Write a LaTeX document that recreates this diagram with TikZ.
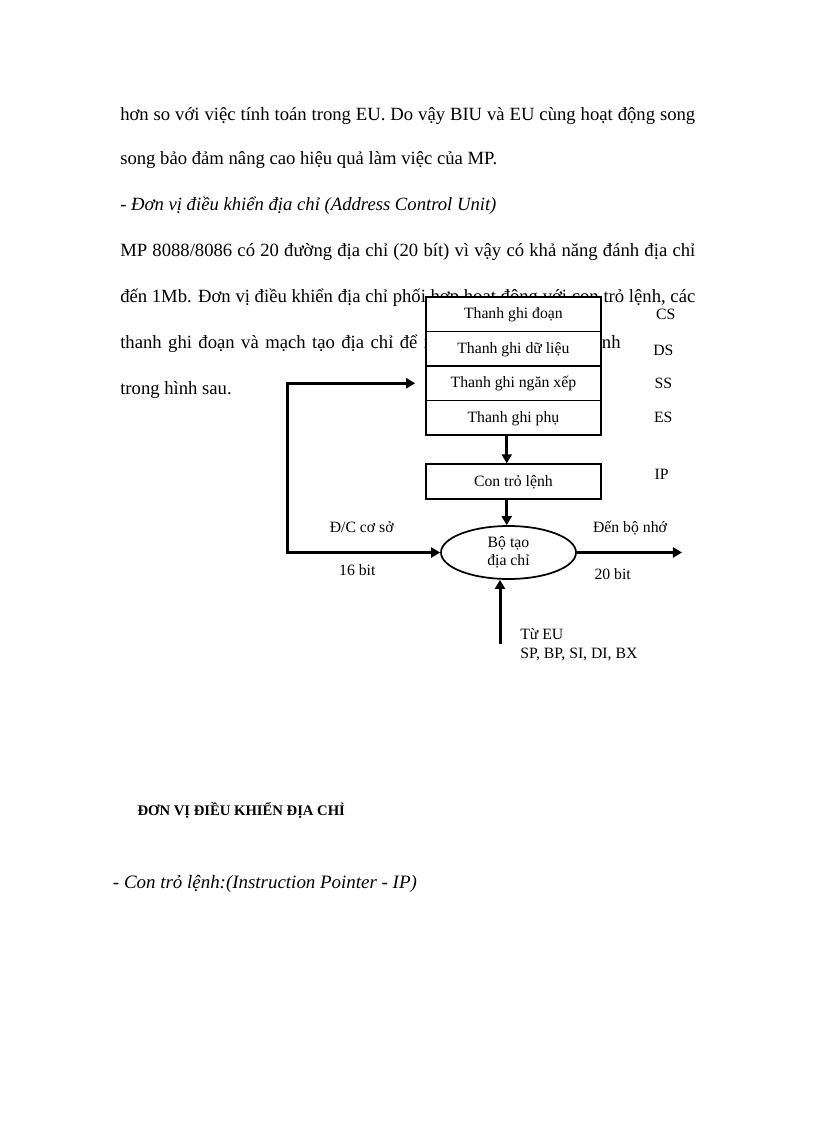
\documentclass[tikz,border=0pt]{standalone}
\usepackage{fontspec}
\setmainfont{Liberation Serif}
\usetikzlibrary{arrows.meta,shapes.geometric}
\begin{document}
\begin{tikzpicture}[x=0.75pt,y=-0.75pt,
  body/.style={anchor=base west,inner sep=0pt,font=\fontsize{14}{16}\selectfont},
  regbox/.style={draw,line width=1.3pt,fill=white,minimum width=131pt,minimum height=25.9pt,inner sep=0pt,text height=9.5pt,text depth=2.5pt,font=\fontsize{11.8}{13.8}\selectfont},
  lbl/.style={anchor=base,inner sep=0pt,font=\fontsize{11.8}{13.8}\selectfont},
  lblw/.style={anchor=base west,inner sep=0pt,font=\fontsize{11.8}{13.8}\selectfont},
  bus/.style={line width=2.25pt,-{Triangle[length=6.8pt,width=7.5pt]}},
  bibus/.style={line width=2.25pt,{Triangle[length=6.8pt,width=7.5pt]}-{Triangle[length=6.8pt,width=7.5pt]}},
]
\useasboundingbox[fill=white] (0,0) rectangle (816,1123);
% body text
\node[body] (l1) at (120,120.7) {\makebox[431.25pt][s]{hơn so với việc tính toán trong EU. Do vậy BIU và EU cùng hoạt động song}};
\node[body] (l2) at (120,165) {song bảo đảm nâng cao hiệu quả làm việc của MP.};
\node[body,font=\fontsize{14}{16}\selectfont\itshape] (l3) at (120,210.7) {- Đơn vị điều khiển địa chỉ (Address Control Unit)};
\node[body] (l4) at (120,256.7) {\makebox[431.25pt][s]{MP 8088/8086 có 20 đường địa chỉ (20 bít) vì vậy có khả năng đánh địa chỉ}};
\node[body] (l5) at (120,302.3) {\makebox[431.25pt][s]{đến 1Mb. Đơn vị điều khiển địa chỉ phối hợp hoạt động với con trỏ lệnh, các}};
\node[body] (l6) at (120,348) {\makebox[234.75pt][s]{thanh ghi đoạn và mạch tạo địa chỉ để x}};
\node[body] (l6b) at (601.7,348) {nh};
\node[body] (l7) at (120,394) {trong hình sau.};
\node[body,font=\fontsize{11}{12}\selectfont\bfseries] (h1) at (137.3,815.7) {ĐƠN VỊ ĐIỀU KHIỂN ĐỊA CHỈ};
\node[body,font=\fontsize{14.2}{16}\selectfont\itshape] (h2) at (112.7,888.5) {- Con trỏ lệnh:(Instruction Pointer - IP)};
% register boxes
\node[regbox] (b1) at (513.4,314.25) {Thanh ghi đoạn};
\node[regbox] (b2) at (513.4,348.75) {Thanh ghi dữ liệu};
\node[regbox] (b3) at (513.4,383.25) {Thanh ghi ngăn xếp};
\node[regbox] (b4) at (513.4,417.75) {Thanh ghi phụ};
\node[regbox] (ip) at (513.4,481.5) {Con trỏ lệnh};
\node[draw,ellipse,line width=1.3pt,fill=white,minimum width=101.25pt,minimum height=39.75pt,inner sep=0pt,align=center,font=\fontsize{11.8}{13.8}\selectfont] (gen) at (508.5,552.5) {Bộ tạo\\địa chỉ};
% labels
\node[lbl] (cs) at (665.7,319.5) {CS};
\node[lbl] (ds) at (663.3,355.7) {DS};
\node[lbl] (ss) at (663.3,388.7) {SS};
\node[lbl] (es) at (663.3,422.3) {ES};
\node[lbl] (ipl) at (661.7,479) {IP};
\node[lbl] (dc) at (361.7,532.3) {Đ/C cơ sở};
\node[lbl] (b16) at (357.3,575) {16 bit};
\node[lbl] (dbn) at (630,532.3) {Đến bộ nhớ};
\node[lbl] (b20) at (612.7,579) {20 bit};
\node[lblw] (teu) at (520,639) {Từ EU};
\node[lblw] (regs) at (520,658.3) {SP, BP, SI, DI, BX};
% connectors
\coordinate (fbB) at (287,552.5);
\coordinate (mem) at (682,552.5);
\coordinate (eu) at (500,644);
\draw[bibus] ([xshift=-7.5pt]b3.west) -| (fbB) -- (gen.west);
\draw[bus] ([xshift=-5pt]b4.south) -- ([xshift=-5pt]ip.north);
\draw[bus] ([xshift=-5pt]ip.south) -- ([xshift=-5pt]ip.south |- gen.north);
\draw[bus] (gen.east) -- (mem);
\draw[bus] (eu) -- (eu |- gen.south);
\end{tikzpicture}
\end{document}
